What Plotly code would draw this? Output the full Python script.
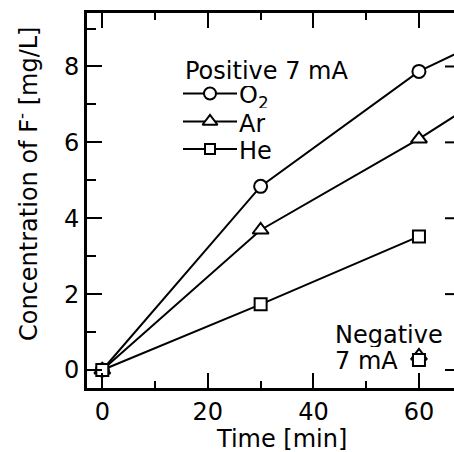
import plotly.graph_objects as go

# ---- data ----
time_pos = [0, 30, 60, 90]
o2_pos = [0, 4.84, 7.87, 9.86]
ar_pos = [0, 3.69, 6.09, 8.76]
time_he = [0, 30, 60]
he_pos = [0, 1.73, 3.52]
time_neg = [60]
ar_neg = [0.37]
he_neg = [0.26]

x_ticks = [0, 20, 40, 60]
y_ticks = [0, 2, 4, 6, 8]

W, H = 454, 452
L, T, B = 87, 13, 388          # plot area pixel edges
R = W
XR = [-2.9, 66.64]
YR = [-0.475, 9.41]

FONT = "DejaVu Sans, Liberation Sans, Arial, sans-serif"
FS = 24

def px_x(p):
    return XR[0] + (p - L) / (R - L) * (XR[1] - XR[0])

def px_y(p):
    return YR[0] + (B - p) / (B - T) * (YR[1] - YR[0])

def pap_x(p):
    return (p - L) / (R - L)

def pap_y(p):
    return (B - p) / (B - T)

mk = dict(color="white", line=dict(color="black", width=2))
ln = dict(color="black", width=2)

fig = go.Figure()
fig.add_trace(go.Scatter(x=time_pos, y=o2_pos, mode="lines+markers", line=ln,
                         marker=dict(symbol="circle", size=13, **mk), showlegend=False))
fig.add_trace(go.Scatter(x=time_pos, y=ar_pos, mode="lines+markers", line=ln,
                         marker=dict(symbol="triangle-up", size=14, **mk), showlegend=False))
fig.add_trace(go.Scatter(x=time_he, y=he_pos, mode="lines+markers", line=ln,
                         marker=dict(symbol="square", size=12, **mk), showlegend=False))
fig.add_trace(go.Scatter(x=time_neg, y=ar_neg, mode="markers",
                         marker=dict(symbol="triangle-up", size=14, **mk), showlegend=False))
fig.add_trace(go.Scatter(x=time_neg, y=he_neg, mode="markers",
                         marker=dict(symbol="square", size=12, **mk), showlegend=False))

# ---- custom legend ----
leg_rows = [("circle", 12, 93.5, "O<sub>2</sub>", 97),
            ("triangle-up", 13, 121.5, "Ar", 124),
            ("square", 10, 149, "He", 151)]
for sym, sz, yp, label, ty in leg_rows:
    fig.add_trace(go.Scatter(x=[px_x(183), px_x(237)], y=[px_y(yp), px_y(yp)], mode="lines",
                             line=ln, showlegend=False, hoverinfo="skip"))
    fig.add_trace(go.Scatter(x=[px_x(210)], y=[px_y(yp)], mode="markers",
                             marker=dict(symbol=sym, size=sz, **mk), showlegend=False, hoverinfo="skip"))
    fig.add_annotation(x=pap_x(237), y=pap_y(ty), xref="paper", yref="paper", text=label,
                       showarrow=False, xanchor="left", yanchor="middle", height=22,
                       font=dict(family=FONT, size=FS, color="black"))

fig.add_annotation(x=pap_x(183), y=pap_y(71), xref="paper", yref="paper", text="Positive 7 mA",
                   showarrow=False, xanchor="left", yanchor="middle", height=22,
                   font=dict(family=FONT, size=FS, color="black"))
fig.add_annotation(x=pap_x(333), y=pap_y(335), xref="paper", yref="paper", text="Negative",
                   showarrow=False, xanchor="left", yanchor="middle", height=24,
                   font=dict(family=FONT, size=FS, color="black"))
fig.add_annotation(x=pap_x(333), y=pap_y(361), xref="paper", yref="paper", text="7 mA",
                   showarrow=False, xanchor="left", yanchor="middle", height=24,
                   font=dict(family=FONT, size=FS, color="black"))

# axis titles
fig.add_annotation(x=pap_x(281), y=pap_y(439), xref="paper", yref="paper", text="Time [min]",
                   showarrow=False, xanchor="center", yanchor="middle",
                   font=dict(family=FONT, size=FS, color="black"))
fig.add_annotation(x=pap_x(27), y=pap_y(184), xref="paper", yref="paper",
                   text="Concentration of F<sup>-</sup> [mg/L]", textangle=-90,
                   showarrow=False, xanchor="center", yanchor="middle",
                   font=dict(family=FONT, size=FS, color="black"))

# right-side ticks (axis lies just beyond the visible edge)
for v in y_ticks:
    fig.add_shape(type="line", xref="paper", yref="y", x0=pap_x(445), x1=1, y0=v, y1=v,
                  line=dict(color="black", width=2))

fig.update_xaxes(range=XR, showline=True, linecolor="black", linewidth=3, mirror="ticks",
                 ticks="inside", ticklen=15, tickwidth=2, tickcolor="black",
                 tickvals=x_ticks, showgrid=False, zeroline=False,
                 minor=dict(ticks="inside", ticklen=7, tickwidth=2, tickcolor="black", dtick=10, tick0=0, showgrid=False),
                 tickfont=dict(family=FONT, size=FS, color="black"), ticklabelstandoff=0)
fig.update_yaxes(range=YR, showline=True, linecolor="black", linewidth=3, mirror=False,
                 ticks="inside", ticklen=15, tickwidth=2, tickcolor="black",
                 tickvals=y_ticks, showgrid=False, zeroline=False,
                 minor=dict(ticks="inside", ticklen=9, tickwidth=2, tickcolor="black", dtick=1, tick0=0, showgrid=False),
                 tickfont=dict(family=FONT, size=FS, color="black"), ticklabelstandoff=0)

fig.update_layout(width=W, height=H, margin=dict(l=L, r=0, t=T, b=H - B),
                  plot_bgcolor="white", paper_bgcolor="white", showlegend=False)

fig.write_html("out.html")
